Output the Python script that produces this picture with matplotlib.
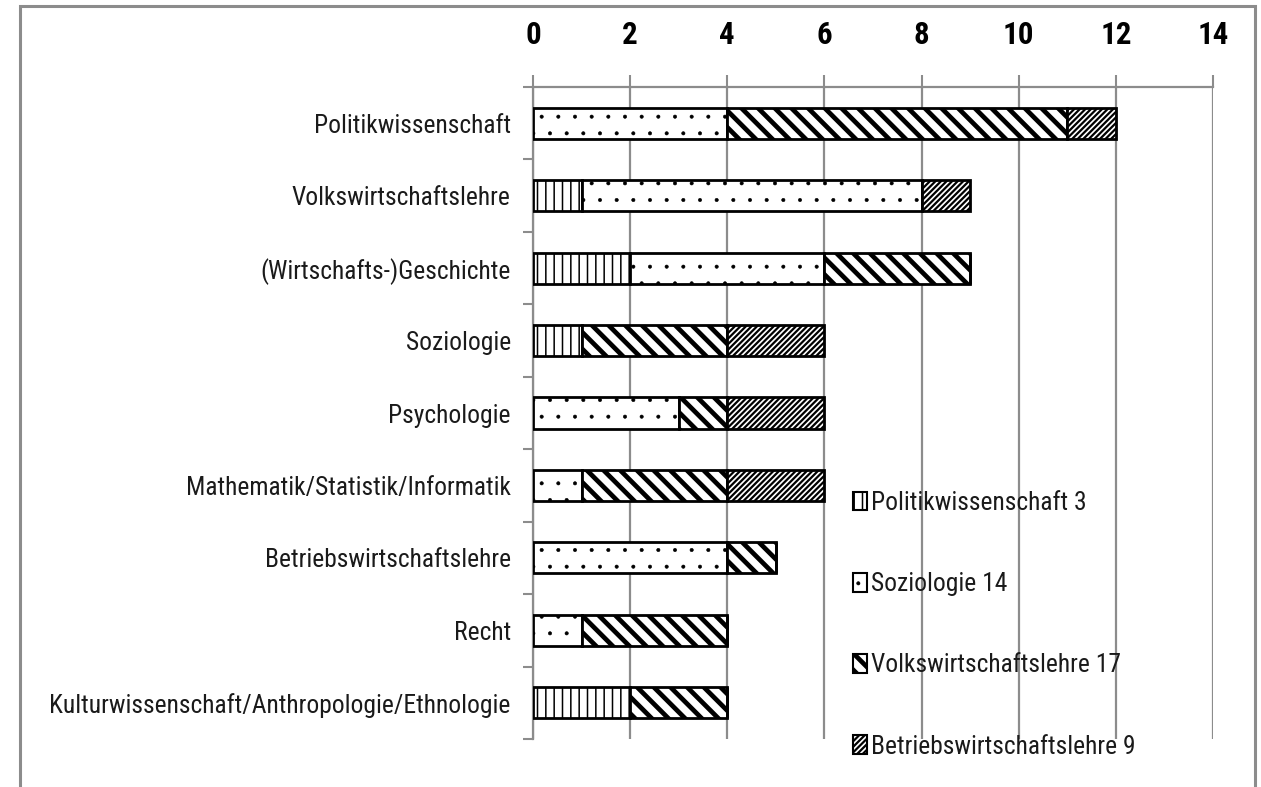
import matplotlib
matplotlib.use("Agg")
import matplotlib as mpl
import matplotlib.pyplot as plt
import matplotlib.patches as mpatches
import matplotlib.font_manager as fm
import numpy as np

categories = ["Politikwissenschaft", "Volkswirtschaftslehre", "(Wirtschafts-)Geschichte",
              "Soziologie", "Psychologie", "Mathematik/Statistik/Informatik",
              "Betriebswirtschaftslehre", "Recht",
              "Kulturwissenschaft/Anthropologie/Ethnologie"]
series_names = ["Politikwissenschaft 3", "Soziologie 14",
                "Volkswirtschaftslehre 17", "Betriebswirtschaftslehre 9"]
pol = [0, 1, 2, 1, 0, 0, 0, 0, 2]
soz = [4, 7, 4, 0, 3, 1, 4, 1, 0]
vwl = [7, 0, 3, 3, 1, 3, 1, 3, 2]
bwl = [1, 1, 0, 2, 2, 2, 0, 0, 0]
xticks = [0, 2, 4, 6, 8, 10, 12, 14]

# pick a narrow font if one is installed
entries = fm.fontManager.ttflist
preferred = ["Liberation Sans Narrow", "Roboto Condensed", "Open Sans Condensed",
             "Noto Sans Condensed", "DejaVu Sans Condensed"]
avail = {f.name for f in entries}
cond_names = [n for n in preferred if n in avail] + sorted(
    {f.name for f in entries if ("Narrow" in f.name or "Condensed" in f.name)})
STRETCH = "normal"
if cond_names:
    FAM = cond_names[0]
else:
    stretch_cond = [f.name for f in entries
                    if str(f.stretch) in ("condensed", "semi-condensed", "extra-condensed")]
    if stretch_cond:
        FAM = stretch_cond[0]
        STRETCH = "condensed"
    else:
        FAM = "Lato" if "Lato" in avail else "DejaVu Sans"
# bold face for the numbers
bold_fams = [f.name for f in entries if f.name in cond_names and
             (f.weight in ("bold", "heavy", "black") or
              (isinstance(f.weight, int) and f.weight >= 600))]
NUMFAM = FAM if FAM in bold_fams else (bold_fams[0] if bold_fams else FAM)
plt.rcParams['font.family'] = [FAM, "DejaVu Sans"]
plt.rcParams['font.stretch'] = STRETCH


def with_hatch_lw(patch, lw):
    orig = patch.draw

    def draw(renderer, _orig=orig, _lw=lw):
        with mpl.rc_context({'hatch.linewidth': _lw}):
            _orig(renderer)
    patch.draw = draw
    try:
        patch.set_hatch_linewidth(lw)
    except AttributeError:
        pass


W, H = 1261, 787
fig = plt.figure(figsize=(W / 100, H / 100), dpi=100)
ax = fig.add_axes([533 / W, 1 - 739 / H, 680 / W, (739 - 87) / H])

hatches = ["||", ".", "\\\\", "//////"]
hlw = [1.1, 0.4, 3.4, 1.6]
series = [pol, soz, vwl, bwl]
y = np.arange(len(categories))
left = np.zeros(len(categories))
handles = []
for vals, name, h, lw in zip(series, series_names, hatches, hlw):
    v = np.array(vals, dtype=float)
    with mpl.rc_context({'hatch.linewidth': lw}):
        bars = ax.barh(y, v, left=left, height=0.43, color="white", edgecolor="black",
                       linewidth=2.0, hatch=h, zorder=3)
        hp = mpatches.Patch(facecolor="white", edgecolor="black", hatch=h,
                            linewidth=1.5, label=name)
    for b in bars:
        with_hatch_lw(b, lw)
    left += v
    handles.append(hp)

ax.set_xlim(0, 14)
ax.set_ylim(len(categories) - 0.5, -0.5)
ax.set_xticks(xticks)
ax.xaxis.tick_top()
ax.tick_params(axis="x", which="major", direction="out", length=9, width=1.5,
               color="#8c8c8c", pad=18, labelsize=20)
for lab in ax.get_xticklabels():
    lab.set_fontweight("bold")
    lab.set_family([NUMFAM, "DejaVu Sans"])
ax.set_yticks(y)
ax.set_yticklabels(categories, fontsize=18, color="#1a1a1a")
ax.set_yticks(np.arange(len(categories) + 1) - 0.5, minor=True)
ax.tick_params(axis="y", which="major", length=0, pad=16)
ax.tick_params(axis="y", which="minor", length=7, width=1.5, color="#8c8c8c", direction="out")
ax.grid(axis="x", color="#8c8c8c", linewidth=1.6, zorder=0)
ax.set_axisbelow(True)
for side in ["right", "bottom"]:
    ax.spines[side].set_visible(False)
for side in ["left", "top"]:
    ax.spines[side].set_color("#8c8c8c")
    ax.spines[side].set_linewidth(1.6)

# fit label font size to the reference widths
fig.canvas.draw()
r = fig.canvas.get_renderer()
longest = ax.get_yticklabels()[-1]
wpx = longest.get_window_extent(r).width
cat_fs = 18 * 462.0 / wpx
for lab in ax.get_yticklabels():
    lab.set_fontsize(cat_fs)
tl = ax.get_xticklabels()[5]
hpx = tl.get_window_extent(r).height
num_fs = 20 * 30.0 / hpx
for lab in ax.get_xticklabels():
    lab.set_fontsize(num_fs)

leg = fig.legend(handles=handles, loc="upper left", bbox_to_anchor=(853 / W, 1 - 491 / H),
                 frameon=False, fontsize=cat_fs, handlelength=0.55, handleheight=0.75,
                 handletextpad=0.15, labelspacing=2.24, borderpad=0, borderaxespad=0)
for t in leg.get_texts():
    t.set_color("#1a1a1a")
for p, lw in zip(leg.get_patches(), hlw):
    with_hatch_lw(p, lw)

frame = mpatches.Rectangle((20 / W, -0.1), (1255 - 20) / W, 1.1 - 6 / H,
                           transform=fig.transFigure, fill=False, edgecolor="#8c8c8c",
                           linewidth=2.2)
fig.patches.append(frame)

fig.savefig("out.png", dpi=100)
